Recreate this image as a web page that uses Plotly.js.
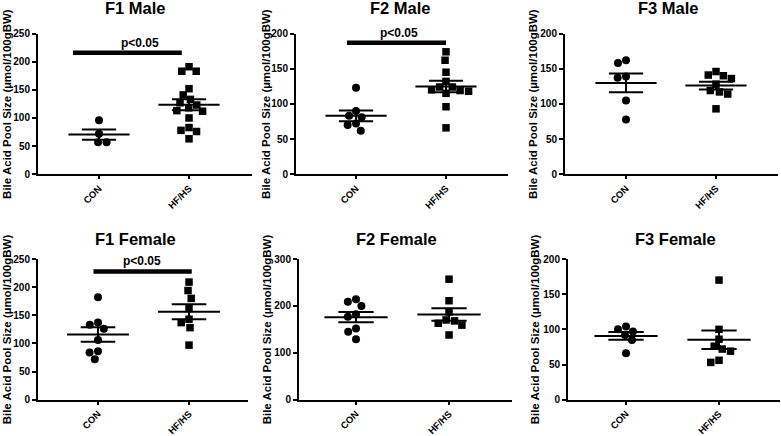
<!DOCTYPE html>
<html>
<head>
<meta charset="utf-8">
<script src="https://cdn.plot.ly/plotly-3.0.1.min.js"></script>
<style>html,body{margin:0;padding:0;background:#fff;}#chart{width:781px;height:436px;}</style>
</head>
<body>
<div id="chart"></div>
<script>
// ---- data ----
const panelTitles = ['F1 Male', 'F2 Male', 'F3 Male', 'F1 Female', 'F2 Female', 'F3 Female'];
const groups = ['CON', 'HF/HS'];
const f1MaleCON = [96, 72, 57, 57];
const f1MaleHF = [191, 183, 183, 152, 141, 133, 127, 123, 118, 113, 112, 100, 83, 78, 76, 63];
const f2MaleCON = [123, 90, 83, 81, 72, 70, 62];
const f2MaleHF = [174, 162, 145, 132, 124, 124, 120, 119, 118, 115, 96, 66];
const f3MaleCON = [162, 158, 139, 137, 105, 78];
const f3MaleHF = [146, 141, 140, 136, 128, 119, 117, 114, 93];
const f1FemaleCON = [182, 137, 133, 126, 106, 86, 84, 72];
const f1FemaleHF = [209, 194, 180, 162, 143, 137, 128, 97];
const f2FemaleCON = [214, 209, 200, 182, 177, 152, 145, 129];
const f2FemaleHF = [257, 211, 187, 170, 168, 163, 159, 138];
const f3FemaleCON = [104, 100, 97, 92, 85, 66];
const f3FemaleHF = [170, 100, 86, 76, 72, 69, 56, 53];
const yMax = [250, 200, 200, 250, 300, 200];
const yStep = [50, 50, 50, 50, 100, 50];
const sigLabel = 'p<0.05';
const sigPanels = [0, 1, 3];
const sigBarY = [216, 187, 228];
const yTitle = 'Bile Acid Pool Size (µmol/100gBW)';

const conData = [f1MaleCON, f2MaleCON, f3MaleCON, f1FemaleCON, f2FemaleCON, f3FemaleCON];
const hfData = [f1MaleHF, f2MaleHF, f3MaleHF, f1FemaleHF, f2FemaleHF, f3FemaleHF];

// ---- layout geometry (pixels) ----
const W = 781, H = 436;
const xDomPx = [[38, 252], [296, 508], [565, 778], [38, 248], [299, 512], [568, 780]];
const yDomPx = [[33.5, 174.3], [33.5, 174.3], [33.5, 174.3], [259, 399.7], [259, 399.7], [259, 399.7]];
const xRanges = [[-0.678, 1.70], [-0.667, 1.689], [-0.678, 1.689], [-0.659, 1.648], [-0.613, 1.677], [-0.624, 1.656]];
const titleX = [135, 400, 668, 135, 396, 675];
const titleY = [7.5, 7.5, 7.5, 239, 239, 239];
const yTitleX = [7, 266, 533, 7, 267, 535];
const sigSpan = {0: [-0.29, 0.92], 1: [-0.1, 1.0], 3: [-0.05, 1.03]};
const sigTextX = {0: 0.456, 1: 0.474, 3: 0.484};

const FONT = 'Arial, "Liberation Sans", sans-serif';

function meanSem(a) {
  const n = a.length;
  const m = a.reduce((s, v) => s + v, 0) / n;
  const sd = Math.sqrt(a.reduce((s, v) => s + (v - m) * (v - m), 0) / (n - 1));
  return [m, sd / Math.sqrt(n)];
}

// beeswarm offsets (in pixels) so that markers don't overlap
function swarm(vals, pxPerY, d) {
  const idx = vals.map((v, i) => i).sort((a, b) => vals[b] - vals[a]);
  const placed = [];
  const off = new Array(vals.length).fill(0);
  for (const i of idx) {
    const y = vals[i] * pxPerY;
    const cands = [0];
    for (const p of placed) {
      const dy = Math.abs(p.y - y);
      if (dy < d) {
        const dx = Math.sqrt(d * d - dy * dy);
        cands.push(p.x + dx, p.x - dx);
      }
    }
    cands.sort((a, b) => Math.abs(a) - Math.abs(b) || a - b);
    let x = 0;
    for (const c of cands) {
      if (placed.every(p => (p.x - c) ** 2 + (p.y - y) ** 2 >= d * d - 1e-6)) { x = c; break; }
    }
    placed.push({x, y});
    off[i] = x;
  }
  return off;
}

const traces = [];
const layout = {
  width: W, height: H,
  margin: {l: 0, r: 0, t: 0, b: 0},
  paper_bgcolor: '#fff', plot_bgcolor: '#fff',
  showlegend: false,
  font: {family: FONT, color: '#000'},
  annotations: [], shapes: []
};

for (let p = 0; p < 6; p++) {
  const sfx = p === 0 ? '' : String(p + 1);
  const xa = 'x' + sfx, ya = 'y' + sfx;
  const plotHpx = yDomPx[p][1] - yDomPx[p][0];
  const plotWpx = xDomPx[p][1] - xDomPx[p][0];
  const pxPerY = plotHpx / yMax[p];
  const pxPerX = plotWpx / (xRanges[p][1] - xRanges[p][0]);
  const sets = [conData[p], hfData[p]];
  sets.forEach((vals, g) => {
    const off = swarm(vals, pxPerY, 8.5);
    traces.push({
      type: 'scatter', mode: 'markers', xaxis: xa, yaxis: ya,
      x: vals.map((v, i) => g + off[i] / pxPerX), y: vals,
      marker: {symbol: g === 0 ? 'circle' : 'square', size: g === 0 ? 8 : 7.5, color: '#000', line: {width: 0}},
      cliponaxis: false, hoverinfo: 'y'
    });
    const [m, se] = meanSem(vals);
    const hw = 0.34, cw = 0.19;
    traces.push({
      type: 'scatter', mode: 'lines', xaxis: xa, yaxis: ya,
      x: [g - hw, g + hw, null, g - cw, g + cw, null, g - cw, g + cw, null, g, g],
      y: [m, m, null, m + se, m + se, null, m - se, m - se, null, m - se, m + se],
      line: {color: '#000', width: 2}, hoverinfo: 'skip', cliponaxis: false
    });
  });

  const tv = [];
  for (let v = 0; v <= yMax[p]; v += yStep[p]) tv.push(v);
  layout['xaxis' + sfx] = {
    domain: [xDomPx[p][0] / W, xDomPx[p][1] / W],
    range: xRanges[p], anchor: ya,
    tickvals: [0, 1], ticktext: groups, tickangle: -45,
    ticks: 'outside', ticklen: 3, tickwidth: 2, tickcolor: '#000',
    showline: true, linewidth: 2, linecolor: '#000',
    showgrid: false, zeroline: false, fixedrange: true,
    tickfont: {family: FONT, size: 9.5, color: '#000', weight: 700}
  };
  layout['yaxis' + sfx] = {
    domain: [1 - yDomPx[p][1] / H, 1 - yDomPx[p][0] / H],
    range: [0, yMax[p]], anchor: xa,
    tickvals: tv, ticks: 'outside', ticklen: 4, tickwidth: 2, tickcolor: '#000',
    showline: true, linewidth: 2, linecolor: '#000',
    showgrid: false, zeroline: false, fixedrange: true,
    tickfont: {family: FONT, size: 10, color: '#000', weight: 700}
  };

  layout.annotations.push({
    text: '<b>' + panelTitles[p] + '</b>', xref: 'paper', yref: 'paper',
    x: titleX[p] / W, y: 1 - titleY[p] / H, xanchor: 'center', yanchor: 'middle',
    showarrow: false, font: {family: FONT, size: 16.5, color: '#000'}
  });
  layout.annotations.push({
    text: '<b>' + yTitle + '</b>', xref: 'paper', yref: 'paper', textangle: -90,
    x: yTitleX[p] / W, y: 1 - (yDomPx[p][0] + yDomPx[p][1]) / 2 / H,
    xanchor: 'center', yanchor: 'middle',
    showarrow: false, font: {family: FONT, size: 11.5, color: '#000'}
  });
}

sigPanels.forEach((p, k) => {
  const sfx = p === 0 ? '' : String(p + 1);
  layout.shapes.push({
    type: 'line', xref: 'x' + sfx, yref: 'y' + sfx,
    x0: sigSpan[p][0], x1: sigSpan[p][1], y0: sigBarY[k], y1: sigBarY[k],
    line: {color: '#000', width: 4.5}
  });
  layout.annotations.push({
    text: '<b>' + sigLabel + '</b>', xref: 'x' + sfx, yref: 'y' + sfx,
    x: sigTextX[p], y: sigBarY[k], xanchor: 'center', yanchor: 'bottom', yshift: 1,
    showarrow: false, font: {family: FONT, size: 12, color: '#000'}
  });
});

Plotly.newPlot('chart', traces, layout, {displayModeBar: false, staticPlot: true});
</script>
</body>
</html>
